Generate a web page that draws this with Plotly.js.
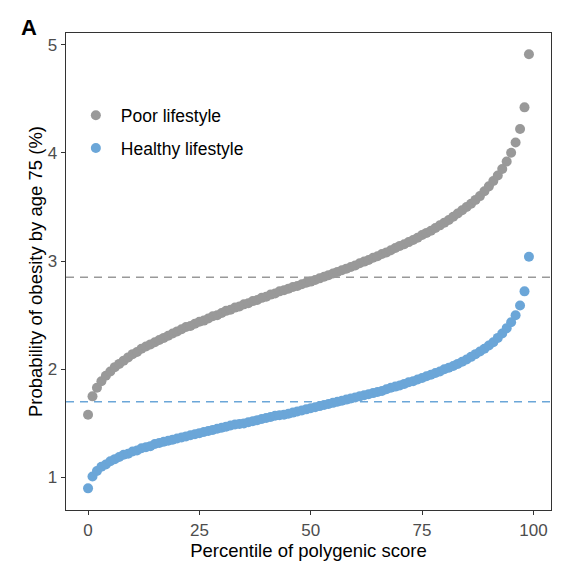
<!DOCTYPE html>
<html>
<head>
<meta charset="utf-8">
<script src="https://cdn.plot.ly/plotly-3.0.1.min.js"></script>
<style>html,body{margin:0;padding:0;background:#fff;}#chart{width:570px;height:568px;}</style>
</head>
<body>
<div id="chart"></div>
<script>
// Percentile of polygenic score (0..99)
var percentile = [];
for (var i = 0; i < 100; i++) percentile.push(i);

// Probability of obesity by age 75 (%) — poor lifestyle
var poorLifestyle = [
  1.58, 1.75, 1.83, 1.89, 1.94, 1.98, 2.02, 2.05, 2.08, 2.11,
  2.14, 2.16, 2.19, 2.21, 2.23, 2.25, 2.27, 2.29, 2.31, 2.33,
  2.35, 2.37, 2.39, 2.40, 2.42, 2.44, 2.45, 2.47, 2.49, 2.50,
  2.52, 2.54, 2.55, 2.57, 2.58, 2.60, 2.61, 2.63, 2.64, 2.66,
  2.67, 2.69, 2.70, 2.72, 2.73, 2.745, 2.76, 2.77, 2.785, 2.80,
  2.81, 2.825, 2.84, 2.855, 2.87, 2.885, 2.90, 2.915, 2.93, 2.945,
  2.96, 2.98, 2.995, 3.01, 3.03, 3.045, 3.065, 3.08, 3.10, 3.12,
  3.14, 3.155, 3.175, 3.195, 3.215, 3.24, 3.26, 3.28, 3.305, 3.33,
  3.355, 3.38, 3.41, 3.44, 3.47, 3.50, 3.53, 3.565, 3.60, 3.645,
  3.69, 3.74, 3.79, 3.85, 3.92, 4.00, 4.095, 4.22, 4.42, 4.91
];

// Healthy lifestyle
var healthyLifestyle = [
  0.90, 1.01, 1.06, 1.10, 1.12, 1.15, 1.17, 1.19, 1.21, 1.22,
  1.24, 1.25, 1.27, 1.28, 1.29, 1.31, 1.32, 1.33, 1.34, 1.35,
  1.36, 1.37, 1.38, 1.39, 1.40, 1.41, 1.42, 1.43, 1.44, 1.45,
  1.46, 1.47, 1.48, 1.49, 1.495, 1.50, 1.51, 1.52, 1.53, 1.54,
  1.55, 1.56, 1.57, 1.575, 1.58, 1.59, 1.60, 1.61, 1.62, 1.63,
  1.64, 1.65, 1.66, 1.67, 1.68, 1.69, 1.70, 1.71, 1.72, 1.73,
  1.74, 1.75, 1.76, 1.77, 1.78, 1.79, 1.80, 1.815, 1.83, 1.84,
  1.85, 1.865, 1.88, 1.89, 1.905, 1.92, 1.935, 1.95, 1.965, 1.98,
  2.00, 2.015, 2.03, 2.05, 2.07, 2.09, 2.115, 2.14, 2.165, 2.19,
  2.22, 2.25, 2.29, 2.33, 2.38, 2.435, 2.50, 2.59, 2.72, 3.04
];

// Population average reference lines
var poorMean = 2.85;
var healthyMean = 1.70;

var seriesNames = ["Poor lifestyle", "Healthy lifestyle"];
var xTicks = [0, 25, 50, 75, 100];
var yTicks = [1, 2, 3, 4, 5];

var grey = "#999999";
var blue = "#6BA6D8";
var fontFam = "Liberation Sans, Arial, sans-serif";

var traces = [
  {
    x: percentile, y: poorLifestyle, type: "scatter", mode: "markers",
    name: seriesNames[0], legendgroup: "a",
    marker: {color: grey, size: 10, line: {width: 0}},
    hoverinfo: "skip"
  },
  {
    x: percentile, y: healthyLifestyle, type: "scatter", mode: "markers",
    name: seriesNames[1], legendgroup: "b",
    marker: {color: blue, size: 10, line: {width: 0}},
    hoverinfo: "skip"
  }
];

var axisCommon = {
  showgrid: false, zeroline: false,
  showline: true, mirror: true, linecolor: "#333333", linewidth: 1.3,
  ticks: "outside", ticklen: 4, tickwidth: 1.1, tickcolor: "#333333",
  tickfont: {family: fontFam, size: 17, color: "#4D4D4D"}
};

var layout = {
  width: 570, height: 568,
  margin: {l: 66, r: 19, t: 33, b: 58},
  paper_bgcolor: "#ffffff", plot_bgcolor: "#ffffff",
  font: {family: fontFam, color: "#000000"},
  showlegend: true,
  legend: {
    x: 0.010, y: 0.865, xanchor: "left", yanchor: "top",
    font: {size: 17.5, color: "#000000"},
    itemwidth: 40,
    tracegroupgap: 7, bgcolor: "rgba(0,0,0,0)", borderwidth: 0
  },
  xaxis: Object.assign({}, axisCommon, {
    range: [-4.95, 103.95],
    tickvals: xTicks, ticktext: xTicks.map(String),
    title: {text: "Percentile of polygenic score", font: {size: 18.5, color: "#000000"}, standoff: 0}
  }),
  yaxis: Object.assign({}, axisCommon, {
    range: [0.70, 5.107],
    tickvals: yTicks, ticktext: yTicks.map(String),
    title: {text: "Probability of obesity by age 75 (%)", font: {size: 18.5, color: "#000000"}, standoff: 0}
  }),
  shapes: [
    {type: "line", xref: "paper", x0: 0, x1: 1, yref: "y", y0: poorMean, y1: poorMean,
     line: {color: grey, width: 1.6, dash: "8px,6px"}, layer: "below"},
    {type: "line", xref: "paper", x0: 0, x1: 1, yref: "y", y0: healthyMean, y1: healthyMean,
     line: {color: blue, width: 1.6, dash: "8px,6px"}, layer: "below"}
  ],
  annotations: [
    {text: "<b>A</b>", xref: "paper", yref: "paper", x: -0.097, y: 1.012,
     xanchor: "left", yanchor: "middle", showarrow: false,
     font: {size: 22, color: "#000000", family: fontFam}}
  ]
};

Plotly.newPlot("chart", traces, layout, {displayModeBar: false, staticPlot: true});
</script>
</body>
</html>
